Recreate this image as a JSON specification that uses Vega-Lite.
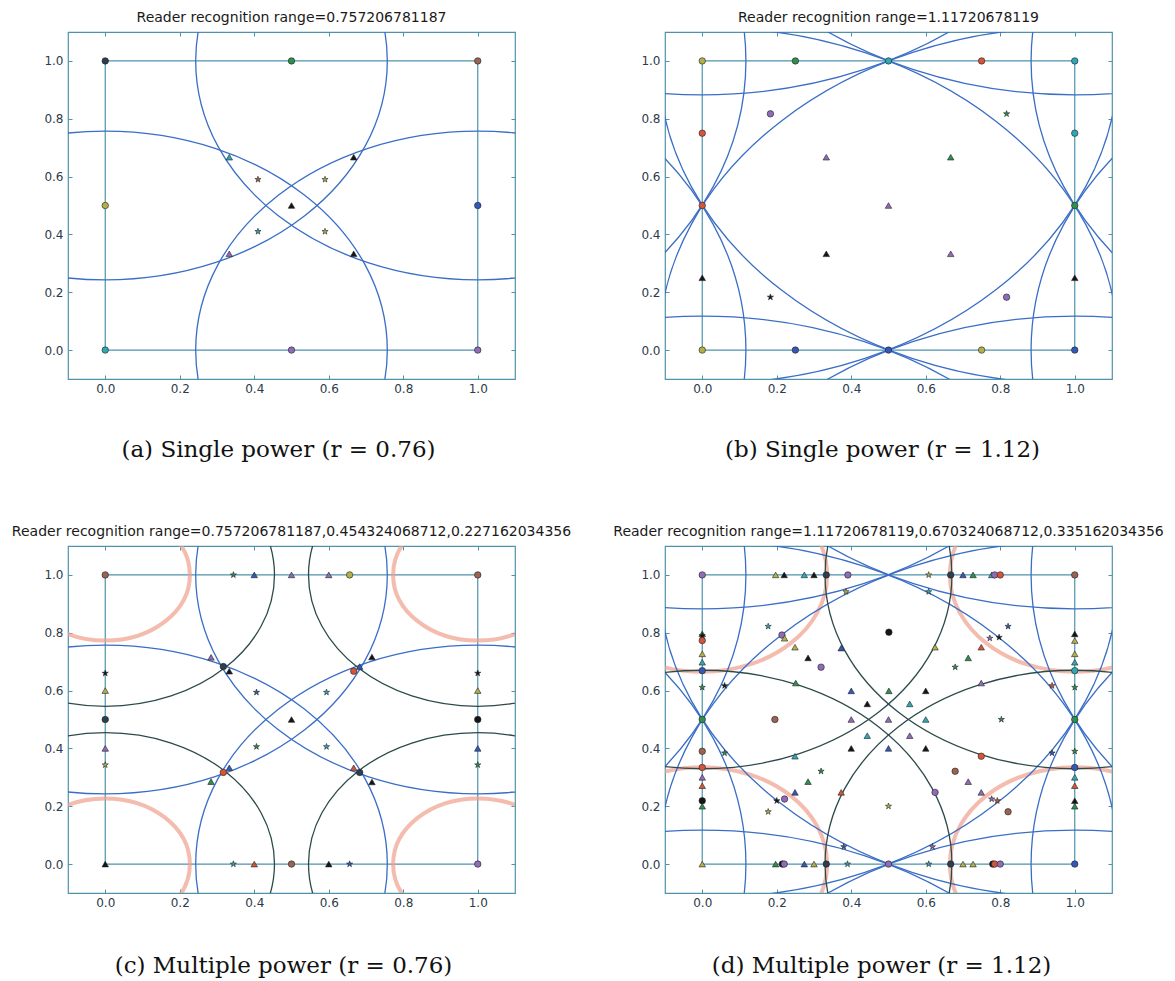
{
"$schema": "https://vega.github.io/schema/vega-lite/v6.json",
"background": "white",
"autosize": {"type": "none"},
"padding": {"left": 68, "top": 32, "right": 1107, "bottom": 949},
"columns": 2,
"spacing": {"row": 167, "column": 150},
"bounds": "flush",
"config": {
  "view": {"stroke": "#4f93ab", "strokeWidth": 1.2},
  "title": {"font": "DejaVu Sans", "fontSize": 14, "fontWeight": "normal", "color": "#1a1a1a", "offset": 7},
  "axis": {"grid": false, "domain": false, "tickSize": -4, "tickColor": "#4f93ab", "tickWidth": 1, "labelFont": "DejaVu Sans", "labelFontSize": 12, "labelColor": "#2b3b4b", "labelPadding": 8, "titleFont": "DejaVu Serif", "titleFontSize": 23, "titleFontWeight": "normal", "titleColor": "#111111", "titleAlign": "center", "titleBaseline": "alphabetic"},
  "axisLeft": {"labelPadding": 9}
},
"datasets": {
  "circ": [
    {"p":"a","k":"big","x":0,"y":0,"r":0.757206781187},{"p":"a","k":"big","x":0,"y":1,"r":0.757206781187},{"p":"a","k":"big","x":1,"y":0,"r":0.757206781187},{"p":"a","k":"big","x":1,"y":1,"r":0.757206781187},
    {"p":"b","k":"big","x":0,"y":0,"r":1.11720678119},{"p":"b","k":"big","x":0,"y":1,"r":1.11720678119},{"p":"b","k":"big","x":1,"y":0,"r":1.11720678119},{"p":"b","k":"big","x":1,"y":1,"r":1.11720678119},
    {"p":"b","k":"big","x":-1,"y":0,"r":1.11720678119},{"p":"b","k":"big","x":-1,"y":1,"r":1.11720678119},{"p":"b","k":"big","x":2,"y":0,"r":1.11720678119},{"p":"b","k":"big","x":2,"y":1,"r":1.11720678119},
    {"p":"b","k":"big","x":0,"y":-1,"r":1.11720678119},{"p":"b","k":"big","x":1,"y":-1,"r":1.11720678119},{"p":"b","k":"big","x":0,"y":2,"r":1.11720678119},{"p":"b","k":"big","x":1,"y":2,"r":1.11720678119},
    {"p":"c","k":"big","x":0,"y":0,"r":0.757206781187},{"p":"c","k":"big","x":0,"y":1,"r":0.757206781187},{"p":"c","k":"big","x":1,"y":0,"r":0.757206781187},{"p":"c","k":"big","x":1,"y":1,"r":0.757206781187},
    {"p":"c","k":"mid","x":0,"y":0,"r":0.454324068712},{"p":"c","k":"mid","x":0,"y":1,"r":0.454324068712},{"p":"c","k":"mid","x":1,"y":0,"r":0.454324068712},{"p":"c","k":"mid","x":1,"y":1,"r":0.454324068712},
    {"p":"c","k":"small","x":0,"y":0,"r":0.227162034356},{"p":"c","k":"small","x":0,"y":1,"r":0.227162034356},{"p":"c","k":"small","x":1,"y":0,"r":0.227162034356},{"p":"c","k":"small","x":1,"y":1,"r":0.227162034356},
    {"p":"d","k":"big","x":0,"y":0,"r":1.11720678119},{"p":"d","k":"big","x":0,"y":1,"r":1.11720678119},{"p":"d","k":"big","x":1,"y":0,"r":1.11720678119},{"p":"d","k":"big","x":1,"y":1,"r":1.11720678119},
    {"p":"d","k":"big","x":-1,"y":0,"r":1.11720678119},{"p":"d","k":"big","x":-1,"y":1,"r":1.11720678119},{"p":"d","k":"big","x":2,"y":0,"r":1.11720678119},{"p":"d","k":"big","x":2,"y":1,"r":1.11720678119},
    {"p":"d","k":"big","x":0,"y":-1,"r":1.11720678119},{"p":"d","k":"big","x":1,"y":-1,"r":1.11720678119},{"p":"d","k":"big","x":0,"y":2,"r":1.11720678119},{"p":"d","k":"big","x":1,"y":2,"r":1.11720678119},
    {"p":"d","k":"mid","x":0,"y":0,"r":0.670324068712},{"p":"d","k":"mid","x":0,"y":1,"r":0.670324068712},{"p":"d","k":"mid","x":1,"y":0,"r":0.670324068712},{"p":"d","k":"mid","x":1,"y":1,"r":0.670324068712},
    {"p":"d","k":"small","x":0,"y":0,"r":0.335162034356},{"p":"d","k":"small","x":0,"y":1,"r":0.335162034356},{"p":"d","k":"small","x":1,"y":0,"r":0.335162034356},{"p":"d","k":"small","x":1,"y":1,"r":0.335162034356}
  ],
  "pts": [
    {"p":"a","x":0,"y":1,"s":"o","c":"d"},{"p":"a","x":0.5,"y":1,"s":"o","c":"g"},{"p":"a","x":1,"y":1,"s":"o","c":"n"},{"p":"a","x":0,"y":0.5,"s":"o","c":"y"},{"p":"a","x":1,"y":0.5,"s":"o","c":"b"},{"p":"a","x":0,"y":0,"s":"o","c":"c"},{"p":"a","x":0.5,"y":0,"s":"o","c":"m"},{"p":"a","x":1,"y":0,"s":"o","c":"m"},
    {"p":"a","x":0.333,"y":0.667,"s":"^","c":"c"},{"p":"a","x":0.667,"y":0.667,"s":"^","c":"k"},{"p":"a","x":0.333,"y":0.333,"s":"^","c":"m"},{"p":"a","x":0.667,"y":0.333,"s":"^","c":"k"},{"p":"a","x":0.5,"y":0.5,"s":"^","c":"k"},
    {"p":"a","x":0.41,"y":0.59,"s":"*","c":"n"},{"p":"a","x":0.59,"y":0.59,"s":"*","c":"y"},{"p":"a","x":0.41,"y":0.41,"s":"*","c":"c"},{"p":"a","x":0.59,"y":0.41,"s":"*","c":"y"},

    {"p":"b","x":0,"y":1,"s":"o","c":"y"},{"p":"b","x":0.25,"y":1,"s":"o","c":"g"},{"p":"b","x":0.5,"y":1,"s":"o","c":"c"},{"p":"b","x":0.75,"y":1,"s":"o","c":"r"},{"p":"b","x":1,"y":1,"s":"o","c":"c"},
    {"p":"b","x":0,"y":0.75,"s":"o","c":"r"},{"p":"b","x":0,"y":0.5,"s":"o","c":"r"},{"p":"b","x":0,"y":0.25,"s":"^","c":"k"},{"p":"b","x":0,"y":0,"s":"o","c":"y"},
    {"p":"b","x":0.25,"y":0,"s":"o","c":"b"},{"p":"b","x":0.5,"y":0,"s":"o","c":"b"},{"p":"b","x":0.75,"y":0,"s":"o","c":"y"},{"p":"b","x":1,"y":0,"s":"o","c":"b"},
    {"p":"b","x":1,"y":0.75,"s":"o","c":"c"},{"p":"b","x":1,"y":0.5,"s":"o","c":"g"},{"p":"b","x":1,"y":0.25,"s":"^","c":"k"},
    {"p":"b","x":0.183,"y":0.817,"s":"o","c":"m"},{"p":"b","x":0.817,"y":0.817,"s":"*","c":"g"},{"p":"b","x":0.333,"y":0.667,"s":"^","c":"m"},{"p":"b","x":0.667,"y":0.667,"s":"^","c":"g"},{"p":"b","x":0.5,"y":0.5,"s":"^","c":"m"},
    {"p":"b","x":0.333,"y":0.333,"s":"^","c":"k"},{"p":"b","x":0.667,"y":0.333,"s":"^","c":"m"},{"p":"b","x":0.183,"y":0.183,"s":"*","c":"k"},{"p":"b","x":0.817,"y":0.183,"s":"o","c":"m"},

    {"p":"c","x":0,"y":1,"s":"o","c":"n"},{"p":"c","x":0.344,"y":1,"s":"*","c":"g"},{"p":"c","x":0.4,"y":1,"s":"^","c":"b"},{"p":"c","x":0.5,"y":1,"s":"^","c":"m"},{"p":"c","x":0.6,"y":1,"s":"^","c":"m"},{"p":"c","x":0.656,"y":1,"s":"o","c":"y"},{"p":"c","x":1,"y":1,"s":"o","c":"n"},
    {"p":"c","x":0,"y":0,"s":"^","c":"k"},{"p":"c","x":0.344,"y":0,"s":"*","c":"c"},{"p":"c","x":0.4,"y":0,"s":"^","c":"r"},{"p":"c","x":0.5,"y":0,"s":"o","c":"n"},{"p":"c","x":0.6,"y":0,"s":"^","c":"k"},{"p":"c","x":0.656,"y":0,"s":"*","c":"b"},{"p":"c","x":1,"y":0,"s":"o","c":"m"},
    {"p":"c","x":0,"y":0.66,"s":"*","c":"k"},{"p":"c","x":0,"y":0.6,"s":"^","c":"y"},{"p":"c","x":0,"y":0.5,"s":"o","c":"d"},{"p":"c","x":0,"y":0.4,"s":"^","c":"m"},{"p":"c","x":0,"y":0.343,"s":"*","c":"y"},
    {"p":"c","x":1,"y":0.66,"s":"*","c":"k"},{"p":"c","x":1,"y":0.6,"s":"^","c":"y"},{"p":"c","x":1,"y":0.5,"s":"o","c":"k"},{"p":"c","x":1,"y":0.4,"s":"^","c":"b"},{"p":"c","x":1,"y":0.343,"s":"*","c":"g"},
    {"p":"c","x":0.284,"y":0.715,"s":"^","c":"m"},{"p":"c","x":0.317,"y":0.683,"s":"o","c":"d"},{"p":"c","x":0.333,"y":0.667,"s":"^","c":"k"},{"p":"c","x":0.406,"y":0.594,"s":"*","c":"b"},{"p":"c","x":0.594,"y":0.594,"s":"*","c":"c"},
    {"p":"c","x":0.5,"y":0.5,"s":"^","c":"k"},{"p":"c","x":0.406,"y":0.406,"s":"*","c":"g"},{"p":"c","x":0.594,"y":0.406,"s":"*","c":"c"},{"p":"c","x":0.284,"y":0.285,"s":"^","c":"g"},{"p":"c","x":0.317,"y":0.317,"s":"o","c":"r"},
    {"p":"c","x":0.333,"y":0.333,"s":"^","c":"b"},{"p":"c","x":0.667,"y":0.667,"s":"o","c":"r"},{"p":"c","x":0.683,"y":0.683,"s":"^","c":"b"},{"p":"c","x":0.716,"y":0.716,"s":"^","c":"k"},{"p":"c","x":0.667,"y":0.333,"s":"^","c":"r"},
    {"p":"c","x":0.683,"y":0.317,"s":"o","c":"d"},{"p":"c","x":0.716,"y":0.284,"s":"^","c":"k"},

    {"p":"d","x":0,"y":1,"s":"o","c":"m"},{"p":"d","x":0.197,"y":1,"s":"^","c":"y"},{"p":"d","x":0.22,"y":1,"s":"^","c":"k"},{"p":"d","x":0.274,"y":1,"s":"^","c":"c"},{"p":"d","x":0.3,"y":1,"s":"^","c":"k"},{"p":"d","x":0.333,"y":1,"s":"o","c":"d"},{"p":"d","x":0.391,"y":1,"s":"o","c":"m"},
    {"p":"d","x":0.608,"y":1,"s":"*","c":"y"},{"p":"d","x":0.667,"y":1,"s":"o","c":"d"},{"p":"d","x":0.7,"y":1,"s":"^","c":"b"},{"p":"d","x":0.727,"y":1,"s":"^","c":"g"},{"p":"d","x":0.777,"y":1,"s":"^","c":"c"},{"p":"d","x":0.785,"y":1,"s":"o","c":"m"},{"p":"d","x":0.8,"y":1,"s":"o","c":"r"},{"p":"d","x":1,"y":1,"s":"o","c":"n"},
    {"p":"d","x":0,"y":0,"s":"^","c":"y"},{"p":"d","x":0.197,"y":0,"s":"^","c":"g"},{"p":"d","x":0.215,"y":0,"s":"o","c":"k"},{"p":"d","x":0.22,"y":0,"s":"o","c":"m"},{"p":"d","x":0.274,"y":0,"s":"^","c":"b"},{"p":"d","x":0.3,"y":0,"s":"^","c":"y"},{"p":"d","x":0.333,"y":0,"s":"o","c":"d"},{"p":"d","x":0.39,"y":0,"s":"*","c":"c"},
    {"p":"d","x":0.5,"y":0,"s":"o","c":"m"},{"p":"d","x":0.608,"y":0,"s":"*","c":"c"},{"p":"d","x":0.667,"y":0,"s":"o","c":"d"},{"p":"d","x":0.7,"y":0,"s":"^","c":"y"},{"p":"d","x":0.727,"y":0,"s":"^","c":"y"},{"p":"d","x":0.78,"y":0,"s":"o","c":"k"},{"p":"d","x":0.785,"y":0,"s":"o","c":"r"},{"p":"d","x":0.8,"y":0,"s":"o","c":"m"},{"p":"d","x":1,"y":0,"s":"o","c":"b"},
    {"p":"d","x":0,"y":0.796,"s":"^","c":"g"},{"p":"d","x":0,"y":0.79,"s":"*","c":"k"},{"p":"d","x":0,"y":0.773,"s":"o","c":"r"},{"p":"d","x":0,"y":0.727,"s":"^","c":"y"},{"p":"d","x":0,"y":0.698,"s":"^","c":"c"},{"p":"d","x":0,"y":0.669,"s":"o","c":"b"},{"p":"d","x":0,"y":0.611,"s":"*","c":"g"},
    {"p":"d","x":0,"y":0.5,"s":"o","c":"g"},{"p":"d","x":0,"y":0.39,"s":"o","c":"n"},{"p":"d","x":0,"y":0.334,"s":"o","c":"r"},{"p":"d","x":0,"y":0.3,"s":"^","c":"m"},{"p":"d","x":0,"y":0.271,"s":"^","c":"r"},{"p":"d","x":0,"y":0.219,"s":"o","c":"k"},{"p":"d","x":0,"y":0.2,"s":"^","c":"g"},
    {"p":"d","x":1,"y":0.796,"s":"^","c":"k"},{"p":"d","x":1,"y":0.773,"s":"^","c":"y"},{"p":"d","x":1,"y":0.727,"s":"^","c":"y"},{"p":"d","x":1,"y":0.698,"s":"^","c":"c"},{"p":"d","x":1,"y":0.669,"s":"o","c":"c"},{"p":"d","x":1,"y":0.611,"s":"*","c":"g"},
    {"p":"d","x":1,"y":0.5,"s":"o","c":"g"},{"p":"d","x":1,"y":0.39,"s":"*","c":"g"},{"p":"d","x":1,"y":0.334,"s":"o","c":"b"},{"p":"d","x":1,"y":0.3,"s":"^","c":"c"},{"p":"d","x":1,"y":0.271,"s":"^","c":"r"},{"p":"d","x":1,"y":0.219,"s":"^","c":"k"},{"p":"d","x":1,"y":0.2,"s":"^","c":"g"},
    {"p":"d","x":0.177,"y":0.822,"s":"*","c":"c"},{"p":"d","x":0.214,"y":0.792,"s":"o","c":"m"},{"p":"d","x":0.221,"y":0.781,"s":"^","c":"y"},{"p":"d","x":0.249,"y":0.75,"s":"^","c":"y"},{"p":"d","x":0.284,"y":0.713,"s":"^","c":"k"},{"p":"d","x":0.319,"y":0.681,"s":"o","c":"m"},
    {"p":"d","x":0.251,"y":0.626,"s":"^","c":"g"},{"p":"d","x":0.373,"y":0.747,"s":"^","c":"b"},{"p":"d","x":0.386,"y":0.942,"s":"*","c":"y"},{"p":"d","x":0.501,"y":0.802,"s":"o","c":"k"},
    {"p":"d","x":0.4,"y":0.599,"s":"^","c":"b"},{"p":"d","x":0.443,"y":0.554,"s":"^","c":"k"},{"p":"d","x":0.501,"y":0.599,"s":"^","c":"g"},{"p":"d","x":0.557,"y":0.554,"s":"^","c":"c"},{"p":"d","x":0.6,"y":0.599,"s":"^","c":"k"},
    {"p":"d","x":0.4,"y":0.5,"s":"^","c":"m"},{"p":"d","x":0.5,"y":0.5,"s":"^","c":"m"},{"p":"d","x":0.6,"y":0.5,"s":"^","c":"c"},{"p":"d","x":0.443,"y":0.444,"s":"^","c":"c"},{"p":"d","x":0.557,"y":0.444,"s":"^","c":"m"},
    {"p":"d","x":0.4,"y":0.4,"s":"^","c":"k"},{"p":"d","x":0.5,"y":0.4,"s":"^","c":"b"},{"p":"d","x":0.6,"y":0.4,"s":"^","c":"k"},{"p":"d","x":0.195,"y":0.5,"s":"o","c":"n"},{"p":"d","x":0.803,"y":0.5,"s":"*","c":"g"},
    {"p":"d","x":0.06,"y":0.617,"s":"*","c":"k"},{"p":"d","x":0.06,"y":0.384,"s":"*","c":"g"},{"p":"d","x":0.249,"y":0.373,"s":"^","c":"c"},{"p":"d","x":0.319,"y":0.321,"s":"*","c":"g"},{"p":"d","x":0.284,"y":0.285,"s":"^","c":"g"},
    {"p":"d","x":0.249,"y":0.248,"s":"^","c":"b"},{"p":"d","x":0.2,"y":0.219,"s":"*","c":"k"},{"p":"d","x":0.221,"y":0.225,"s":"o","c":"m"},{"p":"d","x":0.177,"y":0.181,"s":"*","c":"y"},{"p":"d","x":0.373,"y":0.248,"s":"^","c":"r"},
    {"p":"d","x":0.38,"y":0.06,"s":"*","c":"b"},{"p":"d","x":0.5,"y":0.2,"s":"*","c":"y"},{"p":"d","x":0.618,"y":0.06,"s":"*","c":"m"},{"p":"d","x":0.608,"y":0.942,"s":"*","c":"c"},{"p":"d","x":0.625,"y":0.75,"s":"^","c":"y"},
    {"p":"d","x":0.679,"y":0.681,"s":"*","c":"g"},{"p":"d","x":0.714,"y":0.713,"s":"^","c":"g"},{"p":"d","x":0.749,"y":0.75,"s":"^","c":"r"},{"p":"d","x":0.772,"y":0.781,"s":"*","c":"m"},{"p":"d","x":0.797,"y":0.784,"s":"*","c":"k"},
    {"p":"d","x":0.821,"y":0.822,"s":"*","c":"b"},{"p":"d","x":0.749,"y":0.626,"s":"^","c":"m"},{"p":"d","x":0.939,"y":0.617,"s":"*","c":"r"},{"p":"d","x":0.939,"y":0.384,"s":"*","c":"b"},{"p":"d","x":0.749,"y":0.373,"s":"o","c":"r"},
    {"p":"d","x":0.679,"y":0.321,"s":"o","c":"n"},{"p":"d","x":0.714,"y":0.285,"s":"^","c":"m"},{"p":"d","x":0.749,"y":0.248,"s":"^","c":"m"},{"p":"d","x":0.625,"y":0.248,"s":"o","c":"m"},{"p":"d","x":0.777,"y":0.225,"s":"*","c":"m"},
    {"p":"d","x":0.792,"y":0.219,"s":"*","c":"r"},{"p":"d","x":0.821,"y":0.181,"s":"o","c":"n"}
  ]
},
"concat": [
  {
    "width": 447, "height": 347,
    "title": {"text": "Reader recognition range=0.757206781187"},
    "resolve": {"axis": {"x": "independent", "y": "independent"}},
    "layer": [
      {"data": {"values": [{"x":0,"x2":1,"y":0,"y2":1}]},
       "mark": {"type": "rect", "filled": false, "stroke": "#4f93ab", "strokeWidth": 1.2},
       "encoding": {
         "x": {"field": "x", "type": "quantitative", "scale": {"domain": [-0.1, 1.1], "nice": false, "zero": false}, "axis": {"orient": "bottom", "values": [0,0.2,0.4,0.6,0.8,1], "format": ".1f", "title": "(a) Single power (r = 0.76)", "titleX": 210, "titleY": 77}},
         "x2": {"field": "x2"},
         "y": {"field": "y", "type": "quantitative", "scale": {"domain": [-0.1, 1.1], "nice": false, "zero": false}, "axis": {"orient": "left", "values": [0,0.2,0.4,0.6,0.8,1], "format": ".1f", "title": null}},
         "y2": {"field": "y2"}}},
      {"data": {"values": [{"x":0,"y":0}]},
       "mark": {"type": "point", "opacity": 0},
       "encoding": {
         "x": {"field": "x", "type": "quantitative", "scale": {"domain": [-0.1, 1.1], "nice": false, "zero": false}, "axis": {"orient": "top", "values": [0,0.2,0.4,0.6,0.8,1], "labels": false, "title": null}},
         "y": {"field": "y", "type": "quantitative", "scale": {"domain": [-0.1, 1.1], "nice": false, "zero": false}, "axis": {"orient": "right", "values": [0,0.2,0.4,0.6,0.8,1], "labels": false, "title": null}}}},
      {"data": {"name": "circ"}, "transform": [{"filter": "datum.p === 'a' && datum.k !== 'small'"}],
       "mark": {"type": "point", "shape": "M-1,0A1,0.7763,0,1,0,1,0A1,0.7763,0,1,0,-1,0Z", "filled": false, "clip": true, "strokeWidth": 1.3, "opacity": 1},
       "encoding": {
         "x": {"field": "x", "type": "quantitative", "scale": {"domain": [-0.1, 1.1], "nice": false, "zero": false}, "axis": null},
         "y": {"field": "y", "type": "quantitative", "scale": {"domain": [-0.1, 1.1], "nice": false, "zero": false}, "axis": null},
         "size": {"field": "r", "type": "quantitative", "scale": {"type": "pow", "exponent": 2, "domain": [0, 1], "range": [0, 555025], "zero": true}, "legend": null},
         "stroke": {"field": "k", "type": "nominal", "scale": {"domain": ["big", "mid"], "range": ["#3a6ec6", "#2d4a4a"]}, "legend": null}}},
      {"data": {"name": "pts"}, "transform": [{"filter": "datum.p === 'a'"}],
       "mark": {"type": "point", "filled": true, "stroke": "#222222", "strokeWidth": 0.6, "size": 42, "opacity": 1},
       "encoding": {
         "x": {"field": "x", "type": "quantitative", "scale": {"domain": [-0.1, 1.1], "nice": false, "zero": false}, "axis": null},
         "y": {"field": "y", "type": "quantitative", "scale": {"domain": [-0.1, 1.1], "nice": false, "zero": false}, "axis": null},
         "shape": {"field": "s", "type": "nominal", "scale": {"domain": ["o", "^", "*"], "range": ["circle", "triangle-up", "M0,-1L0.2245,-0.309L0.951,-0.309L0.363,0.118L0.588,0.809L0,0.382L-0.588,0.809L-0.363,0.118L-0.951,-0.309L-0.2245,-0.309Z"]}, "legend": null},
         "fill": {"field": "c", "type": "nominal", "scale": {"domain": ["k","d","b","g","r","c","m","y","n"], "range": ["#151515","#2c3e50","#3558b8","#2f8f4f","#d4553a","#2fa8b4","#8f6bb8","#b3b04a","#9b6352"]}, "legend": null}}}
    ]
  },
  {
    "width": 447, "height": 347,
    "title": {"text": "Reader recognition range=1.11720678119"},
    "resolve": {"axis": {"x": "independent", "y": "independent"}},
    "layer": [
      {"data": {"values": [{"x":0,"x2":1,"y":0,"y2":1}]},
       "mark": {"type": "rect", "filled": false, "stroke": "#4f93ab", "strokeWidth": 1.2},
       "encoding": {
         "x": {"field": "x", "type": "quantitative", "scale": {"domain": [-0.1, 1.1], "nice": false, "zero": false}, "axis": {"orient": "bottom", "values": [0,0.2,0.4,0.6,0.8,1], "format": ".1f", "title": "(b) Single power (r = 1.12)", "titleX": 217, "titleY": 77}},
         "x2": {"field": "x2"},
         "y": {"field": "y", "type": "quantitative", "scale": {"domain": [-0.1, 1.1], "nice": false, "zero": false}, "axis": {"orient": "left", "values": [0,0.2,0.4,0.6,0.8,1], "format": ".1f", "title": null}},
         "y2": {"field": "y2"}}},
      {"data": {"values": [{"x":0,"y":0}]},
       "mark": {"type": "point", "opacity": 0},
       "encoding": {
         "x": {"field": "x", "type": "quantitative", "scale": {"domain": [-0.1, 1.1], "nice": false, "zero": false}, "axis": {"orient": "top", "values": [0,0.2,0.4,0.6,0.8,1], "labels": false, "title": null}},
         "y": {"field": "y", "type": "quantitative", "scale": {"domain": [-0.1, 1.1], "nice": false, "zero": false}, "axis": {"orient": "right", "values": [0,0.2,0.4,0.6,0.8,1], "labels": false, "title": null}}}},
      {"data": {"name": "circ"}, "transform": [{"filter": "datum.p === 'b' && datum.k !== 'small'"}],
       "mark": {"type": "point", "shape": "M-1,0A1,0.7763,0,1,0,1,0A1,0.7763,0,1,0,-1,0Z", "filled": false, "clip": true, "strokeWidth": 1.3, "opacity": 1},
       "encoding": {
         "x": {"field": "x", "type": "quantitative", "scale": {"domain": [-0.1, 1.1], "nice": false, "zero": false}, "axis": null},
         "y": {"field": "y", "type": "quantitative", "scale": {"domain": [-0.1, 1.1], "nice": false, "zero": false}, "axis": null},
         "size": {"field": "r", "type": "quantitative", "scale": {"type": "pow", "exponent": 2, "domain": [0, 1], "range": [0, 555025], "zero": true}, "legend": null},
         "stroke": {"field": "k", "type": "nominal", "scale": {"domain": ["big", "mid"], "range": ["#3a6ec6", "#2d4a4a"]}, "legend": null}}},
      {"data": {"name": "pts"}, "transform": [{"filter": "datum.p === 'b'"}],
       "mark": {"type": "point", "filled": true, "stroke": "#222222", "strokeWidth": 0.6, "size": 42, "opacity": 1},
       "encoding": {
         "x": {"field": "x", "type": "quantitative", "scale": {"domain": [-0.1, 1.1], "nice": false, "zero": false}, "axis": null},
         "y": {"field": "y", "type": "quantitative", "scale": {"domain": [-0.1, 1.1], "nice": false, "zero": false}, "axis": null},
         "shape": {"field": "s", "type": "nominal", "scale": {"domain": ["o", "^", "*"], "range": ["circle", "triangle-up", "M0,-1L0.2245,-0.309L0.951,-0.309L0.363,0.118L0.588,0.809L0,0.382L-0.588,0.809L-0.363,0.118L-0.951,-0.309L-0.2245,-0.309Z"]}, "legend": null},
         "fill": {"field": "c", "type": "nominal", "scale": {"domain": ["k","d","b","g","r","c","m","y","n"], "range": ["#151515","#2c3e50","#3558b8","#2f8f4f","#d4553a","#2fa8b4","#8f6bb8","#b3b04a","#9b6352"]}, "legend": null}}}
    ]
  },
  {
    "width": 447, "height": 347,
    "title": {"text": "Reader recognition range=0.757206781187,0.454324068712,0.227162034356"},
    "resolve": {"axis": {"x": "independent", "y": "independent"}},
    "layer": [
      {"data": {"values": [{"x":0,"x2":1,"y":0,"y2":1}]},
       "mark": {"type": "rect", "filled": false, "stroke": "#4f93ab", "strokeWidth": 1.2},
       "encoding": {
         "x": {"field": "x", "type": "quantitative", "scale": {"domain": [-0.1, 1.1], "nice": false, "zero": false}, "axis": {"orient": "bottom", "values": [0,0.2,0.4,0.6,0.8,1], "format": ".1f", "title": "(c) Multiple power (r = 0.76)", "titleX": 215, "titleY": 79}},
         "x2": {"field": "x2"},
         "y": {"field": "y", "type": "quantitative", "scale": {"domain": [-0.1, 1.1], "nice": false, "zero": false}, "axis": {"orient": "left", "values": [0,0.2,0.4,0.6,0.8,1], "format": ".1f", "title": null}},
         "y2": {"field": "y2"}}},
      {"data": {"values": [{"x":0,"y":0}]},
       "mark": {"type": "point", "opacity": 0},
       "encoding": {
         "x": {"field": "x", "type": "quantitative", "scale": {"domain": [-0.1, 1.1], "nice": false, "zero": false}, "axis": {"orient": "top", "values": [0,0.2,0.4,0.6,0.8,1], "labels": false, "title": null}},
         "y": {"field": "y", "type": "quantitative", "scale": {"domain": [-0.1, 1.1], "nice": false, "zero": false}, "axis": {"orient": "right", "values": [0,0.2,0.4,0.6,0.8,1], "labels": false, "title": null}}}},
      {"data": {"name": "circ"}, "transform": [{"filter": "datum.p === 'c' && datum.k === 'small'"}],
       "mark": {"type": "point", "shape": "M-1,0A1,0.7763,0,1,0,1,0A1,0.7763,0,1,0,-1,0Z", "filled": false, "clip": true, "strokeWidth": 4, "stroke": "#eea08c", "opacity": 0.7},
       "encoding": {
         "x": {"field": "x", "type": "quantitative", "scale": {"domain": [-0.1, 1.1], "nice": false, "zero": false}, "axis": null},
         "y": {"field": "y", "type": "quantitative", "scale": {"domain": [-0.1, 1.1], "nice": false, "zero": false}, "axis": null},
         "size": {"field": "r", "type": "quantitative", "scale": {"type": "pow", "exponent": 2, "domain": [0, 1], "range": [0, 555025], "zero": true}, "legend": null}}},
      {"data": {"name": "circ"}, "transform": [{"filter": "datum.p === 'c' && datum.k !== 'small'"}],
       "mark": {"type": "point", "shape": "M-1,0A1,0.7763,0,1,0,1,0A1,0.7763,0,1,0,-1,0Z", "filled": false, "clip": true, "strokeWidth": 1.3, "opacity": 1},
       "encoding": {
         "x": {"field": "x", "type": "quantitative", "scale": {"domain": [-0.1, 1.1], "nice": false, "zero": false}, "axis": null},
         "y": {"field": "y", "type": "quantitative", "scale": {"domain": [-0.1, 1.1], "nice": false, "zero": false}, "axis": null},
         "size": {"field": "r", "type": "quantitative", "scale": {"type": "pow", "exponent": 2, "domain": [0, 1], "range": [0, 555025], "zero": true}, "legend": null},
         "stroke": {"field": "k", "type": "nominal", "scale": {"domain": ["big", "mid"], "range": ["#3a6ec6", "#2d4a4a"]}, "legend": null}}},
      {"data": {"name": "pts"}, "transform": [{"filter": "datum.p === 'c'"}],
       "mark": {"type": "point", "filled": true, "stroke": "#222222", "strokeWidth": 0.6, "size": 42, "opacity": 1},
       "encoding": {
         "x": {"field": "x", "type": "quantitative", "scale": {"domain": [-0.1, 1.1], "nice": false, "zero": false}, "axis": null},
         "y": {"field": "y", "type": "quantitative", "scale": {"domain": [-0.1, 1.1], "nice": false, "zero": false}, "axis": null},
         "shape": {"field": "s", "type": "nominal", "scale": {"domain": ["o", "^", "*"], "range": ["circle", "triangle-up", "M0,-1L0.2245,-0.309L0.951,-0.309L0.363,0.118L0.588,0.809L0,0.382L-0.588,0.809L-0.363,0.118L-0.951,-0.309L-0.2245,-0.309Z"]}, "legend": null},
         "fill": {"field": "c", "type": "nominal", "scale": {"domain": ["k","d","b","g","r","c","m","y","n"], "range": ["#151515","#2c3e50","#3558b8","#2f8f4f","#d4553a","#2fa8b4","#8f6bb8","#b3b04a","#9b6352"]}, "legend": null}}}
    ]
  },
  {
    "width": 447, "height": 347,
    "title": {"text": "Reader recognition range=1.11720678119,0.670324068712,0.335162034356"},
    "resolve": {"axis": {"x": "independent", "y": "independent"}},
    "layer": [
      {"data": {"values": [{"x":0,"x2":1,"y":0,"y2":1}]},
       "mark": {"type": "rect", "filled": false, "stroke": "#4f93ab", "strokeWidth": 1.2},
       "encoding": {
         "x": {"field": "x", "type": "quantitative", "scale": {"domain": [-0.1, 1.1], "nice": false, "zero": false}, "axis": {"orient": "bottom", "values": [0,0.2,0.4,0.6,0.8,1], "format": ".1f", "title": "(d) Multiple power (r = 1.12)", "titleX": 216, "titleY": 79}},
         "x2": {"field": "x2"},
         "y": {"field": "y", "type": "quantitative", "scale": {"domain": [-0.1, 1.1], "nice": false, "zero": false}, "axis": {"orient": "left", "values": [0,0.2,0.4,0.6,0.8,1], "format": ".1f", "title": null}},
         "y2": {"field": "y2"}}},
      {"data": {"values": [{"x":0,"y":0}]},
       "mark": {"type": "point", "opacity": 0},
       "encoding": {
         "x": {"field": "x", "type": "quantitative", "scale": {"domain": [-0.1, 1.1], "nice": false, "zero": false}, "axis": {"orient": "top", "values": [0,0.2,0.4,0.6,0.8,1], "labels": false, "title": null}},
         "y": {"field": "y", "type": "quantitative", "scale": {"domain": [-0.1, 1.1], "nice": false, "zero": false}, "axis": {"orient": "right", "values": [0,0.2,0.4,0.6,0.8,1], "labels": false, "title": null}}}},
      {"data": {"name": "circ"}, "transform": [{"filter": "datum.p === 'd' && datum.k === 'small'"}],
       "mark": {"type": "point", "shape": "M-1,0A1,0.7763,0,1,0,1,0A1,0.7763,0,1,0,-1,0Z", "filled": false, "clip": true, "strokeWidth": 4, "stroke": "#eea08c", "opacity": 0.7},
       "encoding": {
         "x": {"field": "x", "type": "quantitative", "scale": {"domain": [-0.1, 1.1], "nice": false, "zero": false}, "axis": null},
         "y": {"field": "y", "type": "quantitative", "scale": {"domain": [-0.1, 1.1], "nice": false, "zero": false}, "axis": null},
         "size": {"field": "r", "type": "quantitative", "scale": {"type": "pow", "exponent": 2, "domain": [0, 1], "range": [0, 555025], "zero": true}, "legend": null}}},
      {"data": {"name": "circ"}, "transform": [{"filter": "datum.p === 'd' && datum.k !== 'small'"}],
       "mark": {"type": "point", "shape": "M-1,0A1,0.7763,0,1,0,1,0A1,0.7763,0,1,0,-1,0Z", "filled": false, "clip": true, "strokeWidth": 1.3, "opacity": 1},
       "encoding": {
         "x": {"field": "x", "type": "quantitative", "scale": {"domain": [-0.1, 1.1], "nice": false, "zero": false}, "axis": null},
         "y": {"field": "y", "type": "quantitative", "scale": {"domain": [-0.1, 1.1], "nice": false, "zero": false}, "axis": null},
         "size": {"field": "r", "type": "quantitative", "scale": {"type": "pow", "exponent": 2, "domain": [0, 1], "range": [0, 555025], "zero": true}, "legend": null},
         "stroke": {"field": "k", "type": "nominal", "scale": {"domain": ["big", "mid"], "range": ["#3a6ec6", "#2d4a4a"]}, "legend": null}}},
      {"data": {"name": "pts"}, "transform": [{"filter": "datum.p === 'd'"}],
       "mark": {"type": "point", "filled": true, "stroke": "#222222", "strokeWidth": 0.6, "size": 42, "opacity": 1},
       "encoding": {
         "x": {"field": "x", "type": "quantitative", "scale": {"domain": [-0.1, 1.1], "nice": false, "zero": false}, "axis": null},
         "y": {"field": "y", "type": "quantitative", "scale": {"domain": [-0.1, 1.1], "nice": false, "zero": false}, "axis": null},
         "shape": {"field": "s", "type": "nominal", "scale": {"domain": ["o", "^", "*"], "range": ["circle", "triangle-up", "M0,-1L0.2245,-0.309L0.951,-0.309L0.363,0.118L0.588,0.809L0,0.382L-0.588,0.809L-0.363,0.118L-0.951,-0.309L-0.2245,-0.309Z"]}, "legend": null},
         "fill": {"field": "c", "type": "nominal", "scale": {"domain": ["k","d","b","g","r","c","m","y","n"], "range": ["#151515","#2c3e50","#3558b8","#2f8f4f","#d4553a","#2fa8b4","#8f6bb8","#b3b04a","#9b6352"]}, "legend": null}}}
    ]
  }
]
}
